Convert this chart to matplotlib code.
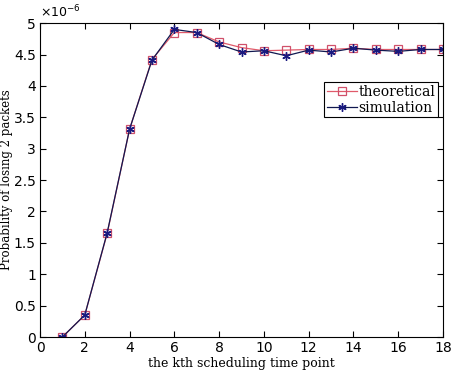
import numpy as np
import matplotlib
matplotlib.use("Agg")
import matplotlib.pyplot as plt

k = np.arange(1, 19)
theoretical = [0.0, 0.35, 1.65, 3.31, 4.42, 4.85, 4.85, 4.70, 4.61, 4.56,
               4.57, 4.58, 4.58, 4.60, 4.58, 4.58, 4.58, 4.58]
simulation = [0.0, 0.35, 1.66, 3.31, 4.41, 4.90, 4.85, 4.66, 4.54, 4.56,
              4.48, 4.57, 4.54, 4.60, 4.57, 4.55, 4.58, 4.58]

fig = plt.figure(figsize=(4.73, 3.73), dpi=100)
ax = fig.add_axes([0.0846, 0.0965, 0.852, 0.8415])

ax.plot(k, theoretical, color='#e05a6a', lw=0.9, marker='s', ms=6,
        mfc='none', mec='#d0506a', mew=0.9, label='theoretical')
ax.plot(k, simulation, color='#101850', lw=0.9, marker=(6, 2, 0), ms=6,
        mec='#1a1a80', mew=1.0, label='simulation')

ax.set_xlim(0, 18)
ax.set_ylim(0, 5)
ax.set_xticks(np.arange(0, 19, 2))
ax.set_yticks(np.arange(0, 5.01, 0.5))
ax.set_yticklabels(['0', '0.5', '1', '1.5', '2', '2.5', '3', '3.5', '4', '4.5', '5'])
ax.tick_params(direction='in', top=True, right=True, length=4, labelsize=10,
               pad=3)
for s in ax.spines.values():
    s.set_linewidth(0.8)

ax.text(0.0, 1.01, r'$\times 10^{-6}$', transform=ax.transAxes, fontsize=9,
        ha='left', va='bottom')

ax.set_xlabel('the kth scheduling time point', family='serif', fontsize=9,
              labelpad=1)
ax.set_ylabel('Probability of losing 2 packets', family='serif', fontsize=8.5)
ax.yaxis.set_label_coords(-0.068, 0.5)

leg = ax.legend(loc='upper right', bbox_to_anchor=(0.995, 0.82),
                prop={'family': 'serif', 'size': 10}, fancybox=False,
                edgecolor='black', framealpha=1, borderpad=0.2,
                handlelength=2.2, handletextpad=0.1, labelspacing=0.1,
                borderaxespad=0.2)
leg.get_frame().set_linewidth(0.8)

fig.savefig('out.png', dpi=100)
